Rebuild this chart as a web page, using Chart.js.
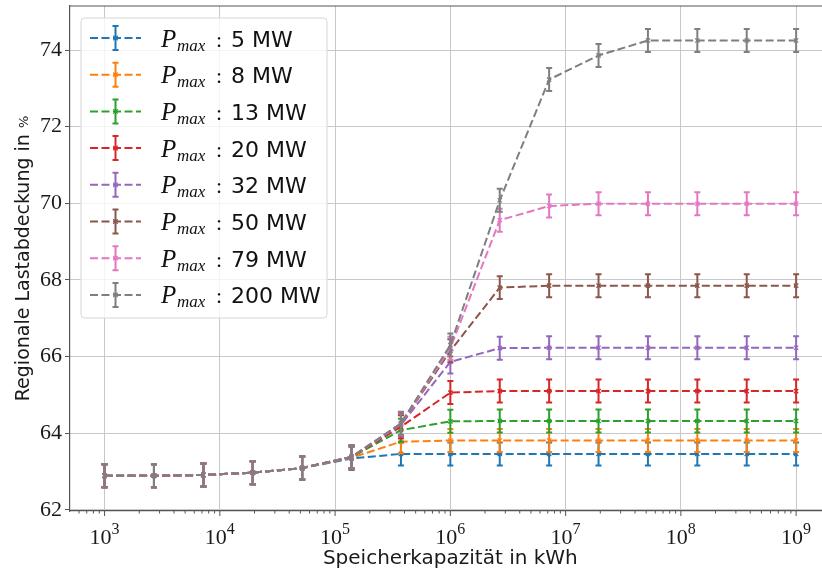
<!DOCTYPE html>
<html>
<head>
<meta charset="utf-8">
<script src="https://cdn.jsdelivr.net/npm/chart.js@4.4.1/dist/chart.umd.min.js"></script>
<style>
  html, body { margin: 0; padding: 0; background: #fff; overflow: hidden; }
  #rahmen { width: 822px; height: 572px; overflow: hidden; }
</style>
</head>
<body>
<div id="rahmen"><canvas id="grafico" width="836" height="572"></canvas></div>
<script>
// Speicherkapazität in kWh (logarithmisch verteilt, 10^3 bis 10^9)
const kapazitaet = [1000, 2683, 7197, 19307, 51795, 138950, 372759, 1000000,
  2682696, 7196857, 19306977, 51794747, 138949549, 372759372, 1000000000];

// Maximale Leistung je Szenario
const leistungen = ['5', '8', '13', '20', '32', '50', '79', '200'];

// Regionale Lastabdeckung in % je Szenario
const deckung5   = [62.89, 62.89, 62.91, 62.97, 63.09, 63.34, 63.46, 63.46, 63.46, 63.46, 63.46, 63.46, 63.46, 63.46, 63.46];
const deckung8   = [62.89, 62.89, 62.91, 62.97, 63.09, 63.36, 63.78, 63.81, 63.81, 63.81, 63.81, 63.81, 63.81, 63.81, 63.81];
const deckung13  = [62.89, 62.89, 62.91, 62.97, 63.09, 63.38, 64.08, 64.31, 64.32, 64.32, 64.32, 64.32, 64.32, 64.32, 64.32];
const deckung20  = [62.89, 62.89, 62.91, 62.97, 63.09, 63.38, 64.17, 65.06, 65.10, 65.10, 65.10, 65.10, 65.10, 65.10, 65.10];
const deckung32  = [62.89, 62.89, 62.91, 62.97, 63.09, 63.38, 64.22, 65.86, 66.22, 66.23, 66.23, 66.23, 66.23, 66.23, 66.23];
const deckung50  = [62.89, 62.89, 62.91, 62.97, 63.09, 63.38, 64.24, 66.15, 67.80, 67.85, 67.85, 67.85, 67.85, 67.85, 67.85];
const deckung79  = [62.89, 62.89, 62.91, 62.97, 63.09, 63.38, 64.25, 66.22, 69.56, 69.93, 69.99, 69.99, 69.99, 69.99, 69.99];
const deckung200 = [62.89, 62.89, 62.91, 62.97, 63.09, 63.38, 64.26, 66.30, 70.08, 73.23, 73.86, 74.25, 74.25, 74.25, 74.25];

// Standardabweichung (Fehlerbalken)
const streuung = 0.3;

const yTicks = [62, 64, 66, 68, 70, 72, 74];
const dekaden = [3, 4, 5, 6, 7, 8, 9];

const reihen = [deckung5, deckung8, deckung13, deckung20, deckung32, deckung50, deckung79, deckung200];
const farben = ['#1f77b4', '#ff7f0e', '#2ca02c', '#d62728', '#9467bd', '#8c564b', '#e377c2', '#7f7f7f'];

const strich = [8, 3.5];
const achsenFarbe = '#555555';
const serif = '"Liberation Serif", serif';
const sans = '"DejaVu Sans", sans-serif';

const datasets = reihen.map((werte, i) => ({
  label: 'P_max : ' + leistungen[i] + ' MW',
  data: werte.map((v, k) => ({ x: kapazitaet[k], y: v })),
  borderColor: farben[i],
  backgroundColor: farben[i],
  borderWidth: 2,
  borderDash: strich,
  pointStyle: 'crossRot',
  pointRadius: 3,
  pointBorderWidth: 1.3,
  tension: 0,
  order: reihen.length - i  // letzte Reihe liegt oben
}));

// Fehlerbalken mit Kappen, nach jeder Reihe gezeichnet
const fehlerbalken = {
  id: 'fehlerbalken',
  afterDatasetDraw(chart, args) {
    const ds = chart.data.datasets[args.index];
    const y = chart.scales.y;
    const c = chart.ctx;
    c.save();
    c.strokeStyle = ds.borderColor;
    c.lineWidth = 2;
    args.meta.data.forEach((pt, k) => {
      const v = ds.data[k].y;
      const oben = y.getPixelForValue(v + streuung);
      const unten = y.getPixelForValue(v - streuung);
      c.beginPath();
      c.moveTo(pt.x, oben); c.lineTo(pt.x, unten);
      c.moveTo(pt.x - 3, oben); c.lineTo(pt.x + 3, oben);
      c.moveTo(pt.x - 3, unten); c.lineTo(pt.x + 3, unten);
      c.stroke();
    });
    c.restore();
  }
};

function zeichneMarker(c, x, y, farbe) {
  c.strokeStyle = farbe;
  c.lineWidth = 1.3;
  c.beginPath();
  c.moveTo(x - 2.2, y - 2.2); c.lineTo(x + 2.2, y + 2.2);
  c.moveTo(x - 2.2, y + 2.2); c.lineTo(x + 2.2, y - 2.2);
  c.stroke();
}

// Achsenbeschriftung, Teilstriche, Rahmen und Legende
const beschriftung = {
  id: 'beschriftung',
  afterDraw(chart) {
    const c = chart.ctx;
    const a = chart.chartArea;
    const x = chart.scales.x;
    c.save();

    // obere und rechte Rahmenlinie
    c.strokeStyle = achsenFarbe;
    c.lineWidth = 1.2;
    c.beginPath();
    c.moveTo(a.left, a.top); c.lineTo(a.right, a.top);
    c.moveTo(a.right, a.top); c.lineTo(a.right, a.bottom);
    c.stroke();

    // Haupt- und Nebenteilstriche der log. x-Achse
    c.lineWidth = 1;
    c.beginPath();
    for (let e = 2; e <= 9; e++) {
      for (let m = 1; m <= 9; m++) {
        const v = m * Math.pow(10, e);
        if (v < x.min || v > x.max) continue;
        const px = x.getPixelForValue(v);
        const len = m === 1 ? 5 : 2.5;
        c.moveTo(px, a.bottom); c.lineTo(px, a.bottom + len);
      }
    }
    c.stroke();

    // Beschriftung 10^n
    c.fillStyle = '#1a1a1a';
    c.textBaseline = 'alphabetic';
    dekaden.forEach(e => {
      const px = x.getPixelForValue(Math.pow(10, e));
      c.font = '22px ' + serif;
      const wBasis = c.measureText('10').width;
      c.font = '16px ' + serif;
      const wExp = c.measureText(String(e)).width;
      const start = px - (wBasis + wExp) / 2;
      c.font = '22px ' + serif;
      c.fillText('10', start, 544);
      c.font = '16px ' + serif;
      c.fillText(String(e), start + wBasis, 534);
    });

    // Achsentitel
    c.font = '20px ' + sans;
    c.textAlign = 'center';
    c.fillText('Speicherkapazität in kWh', (a.left + a.right) / 2, 564);

    c.save();
    c.translate(29, (a.top + a.bottom) / 2);
    c.rotate(-Math.PI / 2);
    c.font = '19px ' + sans;
    const haupt = 'Regionale Lastabdeckung in ';
    const wHaupt = c.measureText(haupt).width;
    c.font = '13px ' + sans;
    const wProz = c.measureText('%').width;
    c.textAlign = 'left';
    const s0 = -(wHaupt + wProz) / 2;
    c.font = '19px ' + sans;
    c.fillText(haupt, s0, 0);
    c.font = '13px ' + sans;
    c.fillText('%', s0 + wHaupt, -1);
    c.restore();

    // Legende
    const lx = 81, ly = 18, lw = 246, lh = 300;
    c.beginPath();
    c.roundRect(lx, ly, lw, lh, 4);
    c.fillStyle = 'rgba(255,255,255,0.8)';
    c.fill();
    c.strokeStyle = '#d6d6d6';
    c.lineWidth = 1;
    c.stroke();

    c.textAlign = 'left';
    chart.data.datasets.forEach((ds, i) => {
      const ry = 38 + i * 36.7;
      const farbe = ds.borderColor;
      c.strokeStyle = farbe;
      c.lineWidth = 2;
      c.setLineDash(strich);
      c.beginPath();
      c.moveTo(90, ry); c.lineTo(141, ry);
      c.stroke();
      c.setLineDash([]);
      c.beginPath();
      c.moveTo(115.5, ry - 12); c.lineTo(115.5, ry + 12);
      c.moveTo(112.5, ry - 12); c.lineTo(118.5, ry - 12);
      c.moveTo(112.5, ry + 12); c.lineTo(118.5, ry + 12);
      c.stroke();
      zeichneMarker(c, 115.5, ry, farbe);

      c.fillStyle = '#111';
      c.font = 'italic 25px ' + serif;
      c.fillText('P', 161, ry + 8.5);
      c.font = 'italic 17px ' + serif;
      c.fillText('max', 177, ry + 12.5);
      c.font = '22px ' + serif;
      c.fillText(':', 216, ry + 8.5);
      c.font = '22px ' + sans;
      c.fillText(leistungen[i] + ' MW', 231, ry + 8.5);
    });

    c.restore();
  }
};

new Chart(document.getElementById('grafico'), {
  type: 'line',
  data: { datasets },
  options: {
    responsive: false,
    animation: false,
    layout: { padding: { top: 6, right: 0, left: 0, bottom: 0 } },
    plugins: { legend: { display: false }, tooltip: { enabled: false } },
    scales: {
      x: {
        type: 'logarithmic',
        min: Math.pow(10, 2.7),
        max: Math.pow(10, 9.3),
        afterBuildTicks(scale) {
          scale.ticks = dekaden.map(e => ({ value: Math.pow(10, e), major: true }));
        },
        afterFit(scale) {
          scale.height = 61;
          scale.paddingLeft = 0; scale.paddingRight = 0;
        },
        grid: { color: '#c8c8c8', lineWidth: 1, drawTicks: false },
        ticks: { display: false },
        border: { color: achsenFarbe, width: 1.2 }
      },
      y: {
        min: 61.97,
        max: 75.15,
        afterBuildTicks(scale) {
          scale.ticks = yTicks.map(v => ({ value: v }));
        },
        afterFit(scale) {
          scale.width = 70;
          scale.paddingTop = 0; scale.paddingBottom = 0;
        },
        grid: { color: '#c8c8c8', lineWidth: 1, tickColor: achsenFarbe, tickLength: 5 },
        ticks: { font: { family: serif, size: 22 }, color: '#1a1a1a', padding: 3 },
        border: { color: achsenFarbe, width: 1.2 }
      }
    }
  },
  plugins: [fehlerbalken, beschriftung]
});
</script>
</body>
</html>
